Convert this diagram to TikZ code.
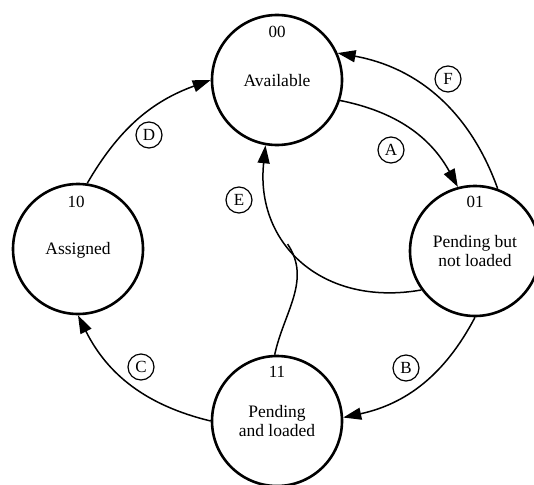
\documentclass[tikz,border=0pt]{standalone}
\usepackage{fontspec}
\setmainfont{Liberation Serif}
\usetikzlibrary{arrows.meta}
\begin{document}
\begin{tikzpicture}[x=1pt,y=1pt,
  state/.style={circle,draw,line width=2.6pt,minimum size=130pt,inner sep=0pt},
  statenum/.style={font=\fontsize{17}{18}\selectfont,inner sep=0pt},
  statename/.style={align=center,font=\fontsize{17.5}{18.5}\selectfont,inner sep=0pt},
  lbl/.style={circle,draw,line width=1.2pt,minimum size=26pt,inner sep=0pt,font=\fontsize{17}{17}\selectfont},
  conn/.style={line width=1.5pt},
  arr/.style={conn,-{Triangle[length=18pt,width=12pt]}}
]
\useasboundingbox (0,0) rectangle (534,-484);
% states
\node[state] (avail) at (277,-80) {};
\node[state] (pend) at (475,-251) {};
\node[state] (assig) at (78,-249) {};
\node[state] (pl) at (277,-421) {};
% texts
\node[statenum] (availn) at (277,-31.5) {00};
\node[statename] (availt) at (277,-81) {Available};
\node[statenum] (pendn) at (475,-202) {01};
\node[statename] (pendt) at (475,-251) {Pending but\\not loaded};
\node[statenum] (assign) at (76,-202) {10};
\node[statename] (assigt) at (78,-250) {Assigned};
\node[statenum] (pln) at (277,-372) {11};
\node[statename] (plt) at (277,-421) {Pending\\and loaded};
% labels
\node[lbl] (la) at (391,-150) {A};
\node[lbl] (lb) at (406,-368) {B};
\node[lbl] (lc) at (141,-367) {C};
\node[lbl] (ld) at (149,-135) {D};
\node[lbl] (le) at (239,-200) {E};
\node[lbl] (lf) at (448,-79) {F};
% connectors
\draw[arr] (avail.-18) to[bend left=25] (pend.105);
\draw[arr] (pend.70) to[bend right=30] (avail.24);
\draw[arr] (pend.-90) to[bend left=25] (pl.3);
\draw[arr] (pl.180) to[bend left=25] (assig.-90);
\draw[arr] (assig.82) to[bend left=20] (avail.180);
\draw[arr] (pend.216) to[out=190,in=-96,looseness=1.2] coordinate[pos=0.6] (ej) (avail.260);
\draw[conn] (pl.92) to[out=78,in=-56] (ej);
\end{tikzpicture}
\end{document}
